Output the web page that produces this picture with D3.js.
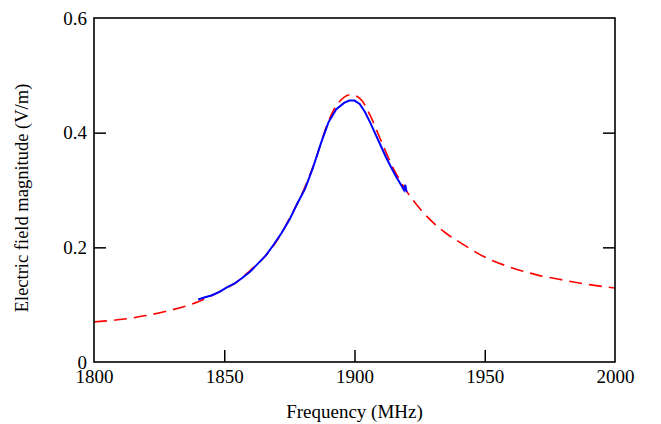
<!DOCTYPE html>
<html>
<head>
<meta charset="utf-8">
<script src="https://cdn.jsdelivr.net/npm/d3@7"></script>
<style>
  body { margin: 0; background: #fff; }
  text { font-family: "Liberation Serif", "Times New Roman", serif; fill: #000; }
</style>
</head>
<body>
<svg id="chart" width="661" height="424"></svg>
<script>
// fitted curve (red dashed)
var fitFreq = [1800, 1810, 1820, 1830, 1840, 1850, 1855, 1860, 1865, 1870, 1875, 1880, 1885, 1890, 1894, 1898,
               1902, 1906, 1910, 1915, 1920, 1925, 1930, 1935, 1940, 1950, 1960, 1970, 1980, 1990, 2000];
var fitVals = [0.070, 0.074, 0.081, 0.091, 0.105, 0.127, 0.140, 0.160, 0.181, 0.210, 0.250, 0.295, 0.352, 0.420, 0.453, 0.466,
               0.460, 0.430, 0.388, 0.337, 0.298, 0.268, 0.244, 0.225, 0.210, 0.183, 0.165, 0.152, 0.143, 0.135, 0.129];

// measured data (blue)
var measFreq = [1840, 1842, 1845, 1848, 1851, 1854, 1857, 1860, 1863, 1866, 1869, 1872, 1875, 1878, 1881, 1884,
                1887, 1890, 1893, 1896, 1898, 1900, 1902, 1904, 1906, 1908, 1910, 1912, 1914, 1916, 1918, 1919, 1919.5, 1920];
var measVals = [0.109, 0.112, 0.116, 0.122, 0.130, 0.137, 0.147, 0.158, 0.172, 0.186, 0.205, 0.225, 0.248, 0.276, 0.302, 0.338,
                0.380, 0.418, 0.441, 0.452, 0.456, 0.456, 0.450, 0.436, 0.418, 0.398, 0.378, 0.358, 0.340, 0.323, 0.308, 0.300, 0.309, 0.296];

var xTicks = [1800, 1850, 1900, 1950, 2000];
var yTicks = [0, 0.2, 0.4, 0.6];
var yTickLabels = ['0', '0.2', '0.4', '0.6'];

var margin = {top: 18, right: 46, bottom: 62, left: 94},
    w = 661, h = 424,
    width  = w - margin.left - margin.right,
    height = h - margin.top - margin.bottom;

var svg = d3.select('#chart');
var chart = svg.append('g')
  .attr('transform', 'translate(' + margin.left + ',' + margin.top + ')');

var xScale = d3.scaleLinear().domain([1800, 2000]).range([0, width]);
var yScale = d3.scaleLinear().domain([0, 0.6]).range([height, 0]);

chart.append('clipPath').attr('id', 'plotclip')
  .append('rect').attr('width', width).attr('height', height);

var line = d3.line()
  .x(function(d) { return xScale(d[0]); })
  .y(function(d) { return yScale(d[1]); });

var smooth = d3.line()
  .x(function(d) { return xScale(d[0]); })
  .y(function(d) { return yScale(d[1]); })
  .curve(d3.curveCatmullRom);

chart.append('path')
  .datum(d3.zip(fitFreq, fitVals))
  .attr('clip-path', 'url(#plotclip)')
  .attr('fill', 'none')
  .attr('stroke', '#ff0000')
  .attr('stroke-width', 1.6)
  .attr('stroke-dasharray', '13,7')
  .attr('d', smooth);

chart.append('path')
  .datum(d3.zip(measFreq, measVals))
  .attr('fill', 'none')
  .attr('stroke', '#0000ff')
  .attr('stroke-width', 2)
  .attr('d', line);

// axes with inward ticks
var tickLen = 12;
var xAxis = d3.axisBottom(xScale).tickValues(xTicks).tickSize(-tickLen).tickPadding(8)
  .tickFormat(d3.format('d'));
var yAxis = d3.axisLeft(yScale).tickValues(yTicks).tickSize(-tickLen).tickPadding(7)
  .tickFormat(function(d, i) { return yTickLabels[i]; });
var yAxisR = d3.axisRight(yScale).tickValues(yTicks.slice(1, 3)).tickSize(-tickLen).tickFormat('');

function styleAxis(g) {
  g.select('.domain').remove();
  g.selectAll('.tick line').attr('stroke', '#000').attr('stroke-width', 1.5);
  g.selectAll('.tick text').style('font-size', '19px');
}

chart.append('g').attr('transform', 'translate(0,' + height + ')').call(xAxis).call(styleAxis);
chart.append('g').call(yAxis).call(styleAxis);
chart.append('g').attr('transform', 'translate(' + width + ',0)').call(yAxisR).call(styleAxis);

// remove end ticks that sit on the frame
chart.selectAll('.tick').filter(function(d) { return d === 1800 || d === 2000 || d === 0 || d === 0.6; })
  .select('line').remove();

chart.append('rect')
  .attr('width', width).attr('height', height)
  .attr('fill', 'none').attr('stroke', '#000').attr('stroke-width', 1.6);

svg.append('text')
  .attr('x', margin.left + width / 2).attr('y', 418)
  .attr('text-anchor', 'middle')
  .style('font-size', '19px')
  .text('Frequency (MHz)');

svg.append('text')
  .attr('transform', 'translate(28,' + (margin.top + height / 2 + 8) + ') rotate(-90)')
  .attr('text-anchor', 'middle')
  .style('font-size', '18.5px')
  .text('Electric field magnitude (V/m)');
</script>
</body>
</html>
